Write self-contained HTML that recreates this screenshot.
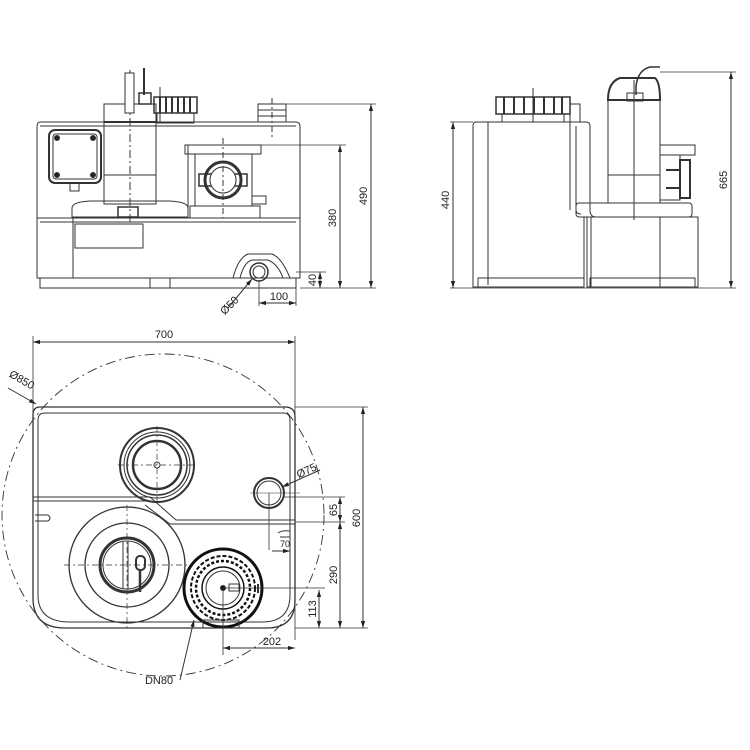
<!DOCTYPE html>
<html><head><meta charset="utf-8"><style>
html,body{margin:0;padding:0;background:#fff}
svg{display:block}
text{font-family:"Liberation Sans",sans-serif;font-size:11px;fill:#222}
</style></head><body>
<svg width="750" height="750" viewBox="0 0 750 750" xmlns="http://www.w3.org/2000/svg">
<defs>
<marker id="a" viewBox="0 0 10 10" refX="10" refY="5" markerWidth="7" markerHeight="7" orient="auto-start-reverse"><path d="M0,2 L10,5 L0,8 z" fill="#222"/></marker>
</defs>
<g fill="none" stroke="#333" stroke-width="1">
<!-- ===== FRONT VIEW ===== -->
<path d="M40,122 H296 Q300,122 300,127 V278 H37 V127 Q37,122 40,122 Z"/>
<line x1="40" y1="126" x2="296" y2="126"/>
<line x1="37" y1="218" x2="300" y2="218"/>
<line x1="40" y1="222" x2="296" y2="222"/>
<rect x="40" y="278" width="256" height="10"/>
<line x1="73" y1="218" x2="73" y2="278"/>
<rect x="75" y="224" width="68" height="24"/>
<line x1="150" y1="278" x2="150" y2="288"/><line x1="170" y1="278" x2="170" y2="288"/>
<!-- junction box -->
<rect x="49" y="130" width="52" height="53" rx="6" stroke-width="2"/>
<rect x="53" y="134" width="44" height="45" rx="3"/>
<circle cx="57" cy="138" r="2.5" fill="#222"/><circle cx="93" cy="138" r="2.5" fill="#222"/>
<circle cx="57" cy="175" r="2.5" fill="#222"/><circle cx="93" cy="175" r="2.5" fill="#222"/>
<rect x="70" y="183" width="9" height="8"/>
<!-- motor -->
<rect x="104" y="104" width="52" height="100"/>
<line x1="104" y1="122" x2="156" y2="122" stroke-width="2"/>
<line x1="104" y1="175" x2="156" y2="175"/>
<line x1="130" y1="70" x2="130" y2="225" stroke-dasharray="8,3,2,3"/>
<rect x="125" y="73" width="9" height="40" fill="#fff"/>
<line x1="144" y1="68" x2="144" y2="95" stroke-width="2"/>
<rect x="139" y="93" width="12" height="11" stroke-width="1.5"/>
<!-- cap -->
<rect x="154" y="97" width="43" height="16" stroke-width="1.5"/>
<path d="M160,97 v16 M166,97 v16 M172,97 v16 M178,97 v16 M184,97 v16 M190,97 v16" stroke-width="2"/>
<rect x="157" y="113" width="37" height="10"/>
<line x1="160" y1="87" x2="160" y2="123"/>
<!-- base plate -->
<path d="M72,217 V208 Q72,202 90,201 H170 Q188,202 188,208 V217 Z"/>
<rect x="118" y="207" width="20" height="10" stroke-width="1.5"/>
<line x1="188" y1="217" x2="188" y2="145"/>
<!-- stub -->
<rect x="258" y="104" width="28" height="18"/>
<line x1="258" y1="110" x2="286" y2="110"/><line x1="258" y1="116" x2="286" y2="116"/>
<line x1="272" y1="98" x2="272" y2="140" stroke-dasharray="6,3,2,3"/>
<!-- valve -->
<rect x="185" y="145" width="76" height="9"/>
<rect x="195" y="154" width="57" height="52"/>
<rect x="190" y="206" width="70" height="12"/>
<circle cx="223" cy="180" r="18" stroke-width="3"/>
<circle cx="223" cy="180" r="13"/>
<rect x="199" y="174" width="48" height="12" stroke-width="1.5"/>
<circle cx="223" cy="180" r="13" fill="#fff"/>
<line x1="223" y1="138" x2="223" y2="218" stroke-dasharray="6,3,2,3"/>
<rect x="252" y="196" width="14" height="8"/>
<!-- outlet saddle -->
<path d="M233,278 Q238,258 248,254 H272 Q282,258 290,278"/>
<path d="M240,278 Q244,262 252,260 H268 Q278,264 283,278"/>
<circle cx="259" cy="272" r="9" stroke-width="1.5"/>
<circle cx="259" cy="272" r="6"/>
<!-- dims front -->
<line x1="286" y1="104" x2="376" y2="104" stroke-width="0.8"/>
<line x1="261" y1="145" x2="346" y2="145" stroke-width="0.8"/>
<line x1="300" y1="288" x2="376" y2="288" stroke-width="0.8"/>
<line x1="296" y1="272" x2="326" y2="272" stroke-width="0.8"/>
<line x1="371" y1="104" x2="371" y2="288" marker-start="url(#a)" marker-end="url(#a)"/>
<line x1="340" y1="145" x2="340" y2="288" marker-start="url(#a)" marker-end="url(#a)"/>
<line x1="320" y1="272" x2="320" y2="288" marker-start="url(#a)" marker-end="url(#a)"/>
<line x1="259" y1="280" x2="259" y2="306" stroke-width="0.8"/>
<line x1="296" y1="288" x2="296" y2="306" stroke-width="0.8"/>
<line x1="259" y1="303" x2="296" y2="303" marker-start="url(#a)" marker-end="url(#a)"/>
<line x1="228" y1="308" x2="252" y2="279" marker-end="url(#a)"/>

<!-- ===== SIDE VIEW ===== -->
<path d="M476,122 H586 Q590,122 590,126 V210 Q590,217 596,217 H584 V287 H473 V126 Q473,122 476,122 Z"/>
<line x1="488" y1="122" x2="488" y2="285"/>
<line x1="570" y1="122" x2="570" y2="210"/>
<path d="M576,126 V210 Q576,214 581,214"/>
<rect x="478" y="278" width="106" height="9"/>
<rect x="496" y="97" width="74" height="17" stroke-width="1.5"/>
<path d="M504,97 v17 M514,97 v17 M524,97 v17 M534,97 v17 M544,97 v17 M554,97 v17 M562,97 v17" stroke-width="2"/>
<rect x="502" y="114" width="62" height="8"/>
<rect x="570" y="104" width="10" height="18"/>
<line x1="533" y1="88" x2="533" y2="122"/>
<!-- motor side -->
<path d="M608,100 Q608,82 620,78 H655 Q660,82 660,100 Z" stroke-width="2"/>
<rect x="608" y="100" width="52" height="103"/>
<line x1="608" y1="175" x2="660" y2="175"/>
<path d="M636,95 V86 Q638,70 650,67 H660" stroke-width="1.5"/>
<rect x="627" y="93" width="16" height="8"/>
<line x1="634" y1="80" x2="634" y2="220"/>
<rect x="576" y="203" width="116" height="14" rx="3"/>
<rect x="587" y="217" width="111" height="70"/>
<line x1="591" y1="217" x2="591" y2="287"/><line x1="660" y1="217" x2="660" y2="287"/>
<rect x="590" y="278" width="105" height="9"/>
<!-- valve side -->
<rect x="660" y="145" width="35" height="10"/>
<rect x="660" y="155" width="20" height="45"/>
<rect x="680" y="160" width="10" height="38" stroke-width="2"/>
<path d="M666,170 L680,170 M666,188 L680,188" stroke-width="2"/>
<!-- dims side -->
<line x1="450" y1="122" x2="473" y2="122" stroke-width="0.8"/>
<line x1="450" y1="288" x2="736" y2="288" stroke-width="0.8"/>
<line x1="660" y1="72" x2="736" y2="72" stroke-width="0.8"/>
<line x1="453" y1="122" x2="453" y2="288" marker-start="url(#a)" marker-end="url(#a)"/>
<line x1="731" y1="72" x2="731" y2="288" marker-start="url(#a)" marker-end="url(#a)"/>

<!-- ===== TOP VIEW ===== -->
<circle cx="163" cy="515" r="161" stroke-dasharray="10,4,2,4" stroke-width="0.9"/>
<line x1="33" y1="336" x2="33" y2="420" stroke-width="0.8"/>
<line x1="295" y1="336" x2="295" y2="640" stroke-width="0.8"/>
<line x1="33" y1="342" x2="295" y2="342" marker-start="url(#a)" marker-end="url(#a)"/>
<path d="M40,407 H285 Q295,407 295,417 V600 Q295,628 267,628 H65 Q33,628 33,598 V415 Q33,407 40,407 Z" stroke-width="1.3"/>
<path d="M45,413 H283 Q290,413 290,420 V595 Q290,622 262,622 H70 Q38,622 38,595 V420 Q38,413 45,413 Z"/>
<line x1="33" y1="497" x2="150" y2="497"/><line x1="33" y1="501" x2="150" y2="501"/>
<path d="M150,497 L176,520 H295 M145,505 L170,524 H295"/>
<path d="M35,515 H48 Q52,518 48,521 H35"/>
<path d="M278,533 Q282,530 290,531 V537 H280"/>
<!-- top circle -->
<circle cx="157" cy="465" r="37" stroke-width="2"/>
<circle cx="157" cy="465" r="33" stroke-width="1"/>
<circle cx="157" cy="465" r="30" stroke-width="1.5"/>
<circle cx="157" cy="465" r="24" stroke-width="2.5"/>
<circle cx="157" cy="465" r="3"/>
<path d="M118,465 H196 M157,426 V504" stroke-dasharray="6,3,2,3" stroke-width="0.7"/>
<!-- big circle -->
<circle cx="127" cy="565" r="58" stroke-width="1.3"/>
<circle cx="127" cy="565" r="42" stroke-width="1.3"/>
<circle cx="127" cy="565" r="27" stroke-width="3"/>
<circle cx="127" cy="565" r="24"/>
<path d="M64,565 H190 M127,505 V628" stroke-dasharray="6,3,2,3" stroke-width="0.7"/>
<line x1="123" y1="541" x2="123" y2="589"/><line x1="128" y1="541" x2="128" y2="589"/>
<rect x="136" y="556" width="9" height="14" rx="4" stroke-width="2"/>
<line x1="140" y1="570" x2="140" y2="592" stroke-width="2.5"/>
<!-- Ø75 -->
<circle cx="269" cy="493" r="15" stroke-width="2"/>
<circle cx="269" cy="493" r="12"/>
<line x1="269" y1="493" x2="269" y2="550" stroke-width="0.8"/>
<line x1="250" y1="493" x2="300" y2="493" stroke-width="0.6"/>
<line x1="320" y1="470" x2="282" y2="487" marker-end="url(#a)"/>
<!-- DN80 -->
<circle cx="223" cy="588" r="39" stroke="#111" stroke-width="3"/>
<circle cx="223" cy="588" r="32" stroke="#111" stroke-width="2" stroke-dasharray="4,2"/>
<circle cx="223" cy="588" r="27" stroke="#111" stroke-width="2.5" stroke-dasharray="3,2"/>
<circle cx="223" cy="588" r="21" stroke="#111" stroke-width="1.5"/>
<circle cx="223" cy="588" r="17"/>
<circle cx="223" cy="588" r="2.5" fill="#111"/>
<rect x="229" y="584" width="10" height="7"/>
<line x1="258" y1="584" x2="258" y2="593" stroke-width="2"/>
<rect x="203" y="620" width="36" height="8"/>
<line x1="223" y1="588" x2="223" y2="655" stroke-width="0.8"/>
<line x1="223" y1="588" x2="325" y2="588" stroke-width="0.8"/>
<line x1="180" y1="680" x2="194" y2="620" marker-end="url(#a)"/>
<!-- top-view dims -->
<line x1="295" y1="407" x2="368" y2="407" stroke-width="0.8"/>
<line x1="295" y1="628" x2="368" y2="628" stroke-width="0.8"/>
<line x1="284" y1="497" x2="345" y2="497" stroke-width="0.8"/>
<line x1="295" y1="522" x2="345" y2="522" stroke-width="0.8"/>
<line x1="363" y1="407" x2="363" y2="628" marker-start="url(#a)" marker-end="url(#a)"/>
<line x1="340" y1="497" x2="340" y2="522" marker-start="url(#a)" marker-end="url(#a)"/>
<line x1="340" y1="522" x2="340" y2="628" marker-start="url(#a)" marker-end="url(#a)"/>
<line x1="319" y1="590" x2="319" y2="628" marker-start="url(#a)" marker-end="url(#a)"/>
<line x1="223" y1="648" x2="295" y2="648" marker-start="url(#a)" marker-end="url(#a)"/>
<line x1="272" y1="551" x2="290" y2="551" marker-end="url(#a)"/>
<line x1="8" y1="388" x2="36" y2="404" marker-end="url(#a)"/>
</g>
<!-- labels -->
<text transform="translate(367,196) rotate(-90)" text-anchor="middle">490</text>
<text transform="translate(336,218) rotate(-90)" text-anchor="middle">380</text>
<text transform="translate(316,280) rotate(-90)" text-anchor="middle">40</text>
<text x="279" y="300" text-anchor="middle">100</text>
<text transform="translate(232,308) rotate(-45)" text-anchor="middle">Ø50</text>
<text transform="translate(449,200) rotate(-90)" text-anchor="middle">440</text>
<text transform="translate(727,180) rotate(-90)" text-anchor="middle">665</text>
<text x="164" y="338" text-anchor="middle">700</text>
<text transform="translate(20,383) rotate(30)" text-anchor="middle">Ø850</text>
<text transform="translate(308,474) rotate(-25)" text-anchor="middle">Ø75</text>
<text transform="translate(337,510) rotate(-90)" text-anchor="middle">65</text>
<text transform="translate(360,518) rotate(-90)" text-anchor="middle">600</text>
<text transform="translate(337,575) rotate(-90)" text-anchor="middle">290</text>
<text transform="translate(316,609) rotate(-90)" text-anchor="middle">113</text>
<text x="272" y="645" text-anchor="middle">202</text>
<text x="280" y="547" style="font-size:9px">70</text>
<text x="159" y="684" text-anchor="middle">DN80</text>
</svg>
</body></html>
